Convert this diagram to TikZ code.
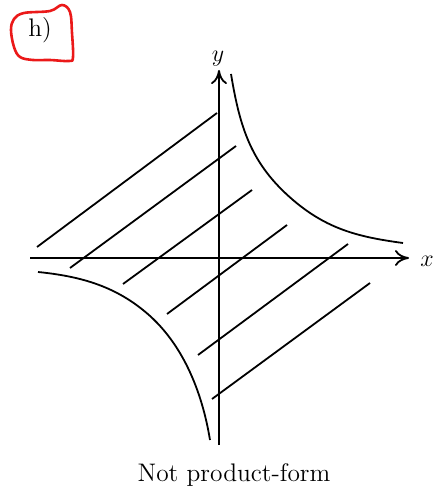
\documentclass[tikz,border=0pt]{standalone}
\usepackage{amsmath}
\usepackage{tikz}
\usetikzlibrary{arrows.meta, calc}
\definecolor{penred}{RGB}{235, 25, 25}

\begin{document}
\begin{tikzpicture}[x=0.5pt, y=-0.5pt, line width=0.9pt,
        axis/.style={line width=0.9pt, -{To[length=7pt, width=8pt]}},
        label/.style={font=\fontsize{12.7}{15}\selectfont, anchor=base, inner sep=0pt}]
        \useasboundingbox (0,0) rectangle (435,497);

        % Axes
        \coordinate (xl) at (30,258);
        \coordinate (xr) at (409,258);
        \coordinate (yb) at (219,445);
        \coordinate (yt) at (219,70);
        \draw[axis] (xl) -- (xr);
        \draw[axis] (yb) -- (yt);
        \node[label] (xlab) at (427,266) {$x$};
        \node[label] (ylab) at (218,62) {$y$};

        % Boundary curves
        \draw (231,74) .. controls (240,128) and (251,164) .. (293,200)
            .. controls (327,229) and (358,237) .. (403,243);
        \draw (38,272) .. controls (78,276) and (112,285) .. (143,310)
            .. controls (182,341) and (202,391) .. (210,440);

        % Hatching
        \draw (37,247) -- (217,113);
        \draw (70,268) -- (236,146);
        \draw (123,284) -- (252,190);
        \draw (167,314) -- (287,225);
        \draw (198,355) -- (348,244);
        \draw (212,399) -- (370,283);

        % Caption
        \node[label] (caption) at (234,481) {Not product-form};

        % Tag
        \node[label] (tag) at (40,37) {h)};
        \draw[penred, line width=1.3pt] plot[smooth cycle, tension=0.6] coordinates {
            (11,30) (14,19) (24,13) (50,11) (62,5) (70,12) (72,33) (73,57)
            (69,61) (50,60) (33,60) (20,57) (14,47)};
\end{tikzpicture}
\end{document}
